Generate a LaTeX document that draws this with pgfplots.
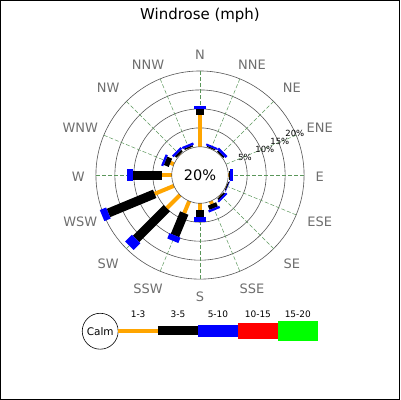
\documentclass[border=0pt]{standalone}
\usepackage{pgfplots}
\usepackage{pgfplotstable}
\pgfplotsset{compat=1.18}
\usepackage{fontspec}
\setmainfont{DejaVu Sans}
\definecolor{barO}{RGB}{255,165,0}
\definecolor{barB}{RGB}{0,0,255}
\definecolor{barR}{RGB}{255,0,0}
\definecolor{barG}{RGB}{0,255,0}
\definecolor{gridg}{RGB}{90,150,90}
\definecolor{ringc}{RGB}{85,85,85}
\definecolor{labc}{RGB}{110,110,110}
% compass direction (deg), cumulative percent at end of 1-3, 3-5, 5-10
\pgfplotstableread{
dir c1 c2 c3
0 8.5 10.1 10.7
22.5 0.1 0.4 0.9
45 0.1 0.5 1.2
67.5 0 0 0
90 0.2 0.5 1.3
112.5 0.1 0.4 0.5
135 0.2 0.7 1.2
157.5 0.8 2.0 2.6
180 1.7 3.6 4.9
202.5 3.4 9.8 11.3
225 4.9 16.4 18.9
247.5 5.5 18.7 20.5
270 2.6 10.1 11.8
292.5 1.0 2.4 3.0
315 0.2 0.8 1.4
337.5 0.2 0.6 1.2
}\windtbl
\def\rz{28.3}
\def\ru{3.8}
\begin{document}
\begin{tikzpicture}
\begin{axis}[
  scale only axis, width=400bp, height=400bp,
  xmin=-200, xmax=200, ymin=-225, ymax=175,
  xtick=\empty, ytick=\empty,
  axis line style={black, line width=0.8bp},
  clip=false]
% rings
\draw[ringc, line width=0.6bp] (axis cs:0,0) circle[radius=47.3];
\draw[ringc, line width=0.6bp] (axis cs:0,0) circle[radius=66.3];
\draw[ringc, line width=0.6bp] (axis cs:0,0) circle[radius=85.3];
\draw[ringc, line width=0.6bp] (axis cs:0,0) circle[radius=104.3];
% radial dashed lines
\pgfplotsinvokeforeach{0,22.5,...,337.5}{
  \addplot[gridg, line width=0.5bp, dash pattern=on 4bp off 2bp, data cs=polar, forget plot] coordinates {(#1,28.3) (#1,104.3)};
}
% bars
\pgfplotsinvokeforeach{0,...,15}{
  \pgfplotstablegetelem{#1}{dir}\of\windtbl \pgfmathsetmacro\wndA{90-\pgfplotsretval}
  \pgfplotstablegetelem{#1}{c1}\of\windtbl \pgfmathsetmacro\wndB{\rz+\ru*\pgfplotsretval}
  \pgfplotstablegetelem{#1}{c2}\of\windtbl \pgfmathsetmacro\wndC{\rz+\ru*\pgfplotsretval}
  \pgfplotstablegetelem{#1}{c3}\of\windtbl \pgfmathsetmacro\wndD{\rz+\ru*\pgfplotsretval}
  \edef\windcmd{%
    \noexpand\addplot[barO, line width=4bp, data cs=polar, forget plot] coordinates {(\wndA,\rz) (\wndA,\wndB)};
    \noexpand\addplot[black, line width=9bp, data cs=polar, forget plot] coordinates {(\wndA,\wndB) (\wndA,\wndC)};
    \noexpand\addplot[barB, line width=12bp, data cs=polar, forget plot] coordinates {(\wndA,\wndC) (\wndA,\wndD)};
  }%
  \windcmd
}
% calm circle
\draw[ringc, line width=0.6bp] (axis cs:0,0) circle[radius=28.3];
\node[font=\fontsize{14.5bp}{16bp}\selectfont] at (axis cs:0,0) {20\%};
% ring labels
\node[font=\fontsize{8.5bp}{10bp}\selectfont] at (axis cs:45,17.7) {5\%};
\node[font=\fontsize{8.5bp}{10bp}\selectfont] at (axis cs:65,25.7) {10\%};
\node[font=\fontsize{8.5bp}{10bp}\selectfont] at (axis cs:80,33.3) {15\%};
\node[font=\fontsize{8.5bp}{10bp}\selectfont] at (axis cs:95,41.7) {20\%};
% direction labels
\begin{scope}[every node/.style={text=labc, font=\fontsize{13bp}{15bp}\selectfont}]
\node at (axis cs:0,121) {N};
\node at (axis cs:52,111) {NNE};
\node at (axis cs:92,87) {NE};
\node at (axis cs:120,47) {ENE};
\node at (axis cs:120,-2) {E};
\node at (axis cs:120,-47) {ESE};
\node at (axis cs:92,-89) {SE};
\node at (axis cs:52,-114) {SSE};
\node at (axis cs:0,-122) {S};
\node at (axis cs:-52,-114) {SSW};
\node at (axis cs:-92,-89) {SW};
\node at (axis cs:-120,-47) {WSW};
\node at (axis cs:-122,-2) {W};
\node at (axis cs:-120,47) {WNW};
\node at (axis cs:-92,87) {NW};
\node at (axis cs:-52,111) {NNW};
\end{scope}
% title
\node[font=\fontsize{15bp}{17bp}\selectfont] at (axis cs:0,160) {Windrose (mph)};
% legend
\draw[black, line width=0.6bp] (axis cs:-100,-156.5) circle[radius=18];
\node[font=\fontsize{10.5bp}{12bp}\selectfont] at (axis cs:-100,-156.5) {Calm};
\fill[barO] (axis cs:-82,-158) rectangle (axis cs:-42,-154);
\fill[black] (axis cs:-42,-160.5) rectangle (axis cs:-2,-151.5);
\fill[barB] (axis cs:-2,-162) rectangle (axis cs:38,-150);
\fill[barR] (axis cs:38,-164) rectangle (axis cs:78,-148);
\fill[barG] (axis cs:78,-166) rectangle (axis cs:118,-146);
\begin{scope}[every node/.style={font=\fontsize{9bp}{11bp}\selectfont}]
\node at (axis cs:-62,-139) {1-3};
\node at (axis cs:-22,-139) {3-5};
\node at (axis cs:18,-139) {5-10};
\node at (axis cs:58,-139) {10-15};
\node at (axis cs:98,-139) {15-20};
\end{scope}
\end{axis}
\end{tikzpicture}
\end{document}
